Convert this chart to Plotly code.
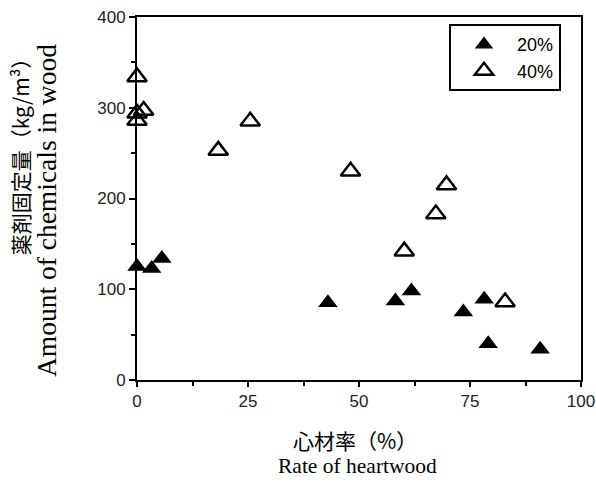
import plotly.graph_objects as go

# 20% treatment (filled triangles)
heart_20 = [0, 3.3, 5.6, 43.0, 58.2, 61.8, 73.5, 78.2, 79.1, 90.8]
amount_20 = [125, 123, 134, 85, 87, 98, 75, 89, 40, 34]

# 40% treatment (open triangles)
heart_40 = [0, 0, 0, 1.5, 18.3, 25.5, 48.1, 60.2, 67.3, 69.7, 82.9]
amount_40 = [334, 294, 286, 297, 253, 285, 230, 142, 183, 215, 86]

x_ticks = [0, 25, 50, 75, 100]
y_ticks = [0, 100, 200, 300, 400]

fig = go.Figure()
fig.add_trace(go.Scatter(
    x=heart_20, y=amount_20, mode="markers", name="20%",
    marker=dict(symbol="triangle-up", size=17, color="black"),
    cliponaxis=False,
))
fig.add_trace(go.Scatter(
    x=heart_40, y=amount_40, mode="markers", name="40%",
    marker=dict(symbol="triangle-up-open", size=17, color="black",
                line=dict(width=2.5, color="black")),
    cliponaxis=False,
))

tick_font = dict(family="Liberation Sans Narrow, Liberation Sans, Arial", size=17, color="#222")

fig.update_xaxes(
    range=[0, 100], tickvals=x_ticks, ticktext=[str(v) for v in x_ticks],
    automargin=False,
    showgrid=False, zeroline=False, showline=True, linecolor="black", linewidth=2,
    mirror=True, ticks="outside", ticklen=5, tickwidth=1.5, tickcolor="black",
    tickfont=tick_font,
    minor=dict(tickvals=[12.5, 37.5, 62.5, 87.5], ticks="outside", ticklen=4,
               tickwidth=1.5, tickcolor="black"),
)
fig.update_yaxes(
    range=[0, 400], tickvals=y_ticks, ticktext=[str(v) for v in y_ticks],
    automargin=False,
    showgrid=False, zeroline=False, showline=True, linecolor="black", linewidth=2,
    mirror=True, ticks="outside", ticklen=6, tickwidth=1.5, tickcolor="black",
    tickfont=tick_font,
    minor=dict(tickvals=[50, 150, 250, 350], ticks="outside", ticklen=4,
               tickwidth=1.5, tickcolor="black"),
)

serif = "Liberation Serif, Times New Roman, serif"
cjk = "Noto Sans CJK JP"
annotations = [
    dict(text="薬剤固定量（kg/m³）", x=-0.2635, y=0.63, xref="paper", yref="paper",
         textangle=-90, showarrow=False, font=dict(family=cjk, size=21, color="black"),
         xanchor="center", yanchor="middle"),
    dict(text="Amount of chemicals in wood", x=-0.205, y=0.468, xref="paper", yref="paper",
         textangle=-90, showarrow=False, font=dict(family=serif, size=27.5, color="black"),
         xanchor="center", yanchor="middle"),
    dict(text="心材率（%）", x=0.491, y=-0.165, xref="paper", yref="paper",
         showarrow=False, font=dict(family=cjk, size=21, color="black"),
         xanchor="center", yanchor="middle"),
    dict(text="Rate of heartwood", x=0.4955, y=-0.237, xref="paper", yref="paper",
         showarrow=False, font=dict(family=serif, size=21.5, color="black"),
         xanchor="center", yanchor="middle"),
]

fig.update_layout(
    width=596, height=483,
    margin=dict(l=137, r=15, t=17, b=103, autoexpand=False),
    paper_bgcolor="white", plot_bgcolor="white",
    showlegend=True,
    legend=dict(x=0.955, y=0.98, xanchor="right", yanchor="top",
                bordercolor="black", borderwidth=2, bgcolor="white",
                font=dict(family="Liberation Sans, Arial", size=18, color="black"),
                itemwidth=56, tracegroupgap=0),
    annotations=annotations,
)

fig.write_html(
    "out.html",
    config={"displayModeBar": False},
    post_script="document.body.style.margin='0px';document.body.style.overflow='hidden';",
)
